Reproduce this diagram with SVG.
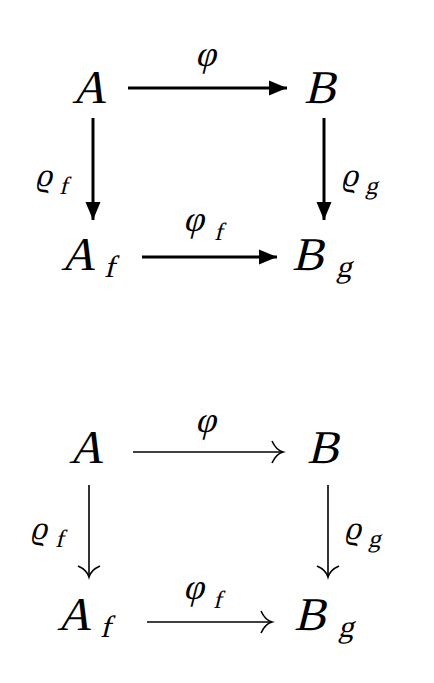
<svg xmlns="http://www.w3.org/2000/svg" width="434" height="683" viewBox="0 0 434 683">
<style>
text{font-family:'Liberation Serif','DejaVu Serif',serif;fill:#000}
.n{font-size:47px}
.s{font-size:31px}
.l{font-size:36px}
.r{font-size:33px}
.ls{font-size:25px}
.thick{stroke:#000;stroke-width:3;fill:none}
.thin{stroke:#000;stroke-width:1.6;fill:none}
</style>
<defs>
<marker id="tri" markerUnits="userSpaceOnUse" markerWidth="24" markerHeight="20" viewBox="-20 -10 24 20" refX="0" refY="0" orient="auto">
<path d="M-18,-7.5 L0,0 L-18,7.5 Z" fill="#000"/>
</marker>
<marker id="cm" markerUnits="userSpaceOnUse" markerWidth="30" markerHeight="30" viewBox="-20 -15 30 30" refX="0" refY="0" orient="auto">
<path d="M-11,-11 Q-7,-2 0,0 Q-7,2 -11,11" fill="none" stroke="#000" stroke-width="1.6"/>
</marker>
</defs>
<g id="top">
<g id="tA"><text class="n" style="font-family:'Liberation Serif','DejaVu Serif',serif" transform="translate(72,103) skewX(-14)">A</text></g>
<g id="tB"><text class="n" style="font-family:'Liberation Serif','DejaVu Serif',serif" transform="translate(304,103) skewX(-14)">B</text></g>
<g id="tAf"><text class="n" style="font-family:'Liberation Serif','DejaVu Serif',serif" transform="translate(61,270) skewX(-14)">A</text><text class="s" style="font-family:'Liberation Serif','DejaVu Serif',serif" transform="translate(104,277) skewX(-14)">f</text></g>
<g id="tBg"><text class="n" style="font-family:'Liberation Serif','DejaVu Serif',serif" transform="translate(292,270) skewX(-14)">B</text><text class="s" style="font-family:'Liberation Serif','DejaVu Serif',serif" transform="translate(336,277) skewX(-14)">g</text></g>
<g id="tconn">
<line class="thick" x1="128" y1="88" x2="287" y2="88" marker-end="url(#tri)"/>
<line class="thick" x1="93" y1="118" x2="93" y2="220" marker-end="url(#tri)"/>
<line class="thick" x1="324" y1="118" x2="324" y2="220" marker-end="url(#tri)"/>
<line class="thick" x1="142" y1="257" x2="277" y2="257" marker-end="url(#tri)"/>
</g>
<g id="tlabels">
<text class="l" style="font-family:'Liberation Serif','DejaVu Serif',serif" transform="translate(195,66) skewX(-14)">φ</text>
<text class="r" style="font-family:'Liberation Serif','DejaVu Serif',serif" transform="translate(35,186) skewX(-14)">ϱ</text><text class="ls" style="font-family:'Liberation Serif','DejaVu Serif',serif" transform="translate(59,194) skewX(-14)">f</text>
<text class="r" style="font-family:'Liberation Serif','DejaVu Serif',serif" transform="translate(341,186) skewX(-14)">ϱ</text><text class="ls" style="font-family:'Liberation Serif','DejaVu Serif',serif" transform="translate(365,194) skewX(-14)">g</text>
<text class="l" style="font-family:'Liberation Serif','DejaVu Serif',serif" transform="translate(183,231) skewX(-14)">φ</text><text class="ls" style="font-family:'Liberation Serif','DejaVu Serif',serif" transform="translate(214,240) skewX(-14)">f</text>
</g>
</g>
<g id="bottom">
<g id="bA"><text class="n" style="font-family:'Liberation Serif','DejaVu Serif',serif" transform="translate(69,463) skewX(-14)">A</text></g>
<g id="bB"><text class="n" style="font-family:'Liberation Serif','DejaVu Serif',serif" transform="translate(307,463) skewX(-14)">B</text></g>
<g id="bAf"><text class="n" style="font-family:'Liberation Serif','DejaVu Serif',serif" transform="translate(57,630) skewX(-14)">A</text><text class="s" style="font-family:'Liberation Serif','DejaVu Serif',serif" transform="translate(100,637) skewX(-14)">f</text></g>
<g id="bBg"><text class="n" style="font-family:'Liberation Serif','DejaVu Serif',serif" transform="translate(294,630) skewX(-14)">B</text><text class="s" style="font-family:'Liberation Serif','DejaVu Serif',serif" transform="translate(338,637) skewX(-14)">g</text></g>
<g id="bconn">
<line class="thin" x1="133" y1="452" x2="283" y2="452" marker-end="url(#cm)"/>
<line class="thin" x1="89" y1="485" x2="89" y2="577" marker-end="url(#cm)"/>
<line class="thin" x1="328" y1="485" x2="328" y2="577" marker-end="url(#cm)"/>
<line class="thin" x1="147" y1="622" x2="272" y2="622" marker-end="url(#cm)"/>
</g>
<g id="blabels">
<text class="l" style="font-family:'Liberation Serif','DejaVu Serif',serif" transform="translate(195,432) skewX(-14)">φ</text>
<text class="r" style="font-family:'Liberation Serif','DejaVu Serif',serif" transform="translate(30,539) skewX(-14)">ϱ</text><text class="ls" style="font-family:'Liberation Serif','DejaVu Serif',serif" transform="translate(55,547) skewX(-14)">f</text>
<text class="r" style="font-family:'Liberation Serif','DejaVu Serif',serif" transform="translate(344,539) skewX(-14)">ϱ</text><text class="ls" style="font-family:'Liberation Serif','DejaVu Serif',serif" transform="translate(368,547) skewX(-14)">g</text>
<text class="l" style="font-family:'Liberation Serif','DejaVu Serif',serif" transform="translate(183,599) skewX(-14)">φ</text><text class="ls" style="font-family:'Liberation Serif','DejaVu Serif',serif" transform="translate(213,608) skewX(-14)">f</text>
</g>
</g>
</svg>
